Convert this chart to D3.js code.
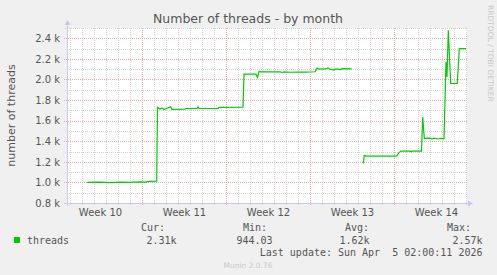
<!DOCTYPE html>
<html lang="en">
<head>
    <meta charset="UTF-8">
    <title>Number of threads - by month</title>
    <script src="https://cdn.jsdelivr.net/npm/d3@7"></script>
    <style>
        body { margin: 0; background: #f0f0f0; }
        svg { display: block; }
    </style>
</head>
<body>
    <script type="text/javascript">
        // chart values
        var times = ["03-04 10:36","03-05 12:00","03-06 08:00","03-07 04:00","03-08 00:00","03-08 20:00","03-09 06:00","03-09 16:00","03-10 05:24",
            "03-10 07:00","03-10 12:00","03-10 16:00","03-10 20:00","03-11 09:24","03-11 12:00","03-12 14:00","03-12 16:00","03-13 14:00","03-13 16:00","03-13 18:00","03-15 08:00","03-15 10:00","03-17 10:00",
            "03-17 12:00","03-18 12:00","03-18 15:00","03-18 18:00","03-18 22:00","03-20 12:00","03-20 16:00","03-20 20:00","03-21 08:00","03-21 22:00","03-22 14:00","03-23 10:00","03-23 14:00","03-23 18:00","03-24 08:00","03-24 12:00","03-24 16:00","03-25 00:00","03-25 04:00","03-25 12:00","03-25 16:00","03-26 11:24",
            "03-26 22:00",
            "03-27 10:36","03-27 12:36","03-27 16:00","03-30 05:24","03-30 08:00","03-30 10:00","03-30 14:00","03-31 08:00","03-31 10:00","03-31 12:00","04-01 07:00",
            "04-01 09:24","04-01 12:36","04-02 00:00","04-02 04:00","04-02 08:00","04-02 16:00","04-02 22:00","04-03 04:00",
            "04-03 08:00","04-03 10:00","04-03 12:36","04-03 17:24","04-04 06:36","04-04 10:36","04-05 00:00"];
        var threads = [1000,1002,998,1003,1000,1006,1003,1010,1012,
            1728,1712,1720,1708,1735,1710,1712,1718,1718,1735,1718,1720,1728,1730,
            2051,2051,2020,2078,2073,2075,2068,2073,2070,2072,2072,2075,2110,2100,2102,2112,2100,2092,2102,2095,2105,2102,
            null,
            1185,1262,1256,1256,1275,1288,1304,1304,1298,1304,1304,
            1637,1427,1430,1422,1430,1422,1428,1425,
            2170,2025,2478,1961,1961,2300,2300];

        var yTicks = [800,1000,1200,1400,1600,1800,2000,2200,2400];
        var weekLabels = ["Week 10","Week 11","Week 12","Week 13","Week 14"];
        var weekStarts = ["03-02 00:00","03-09 00:00","03-16 00:00","03-23 00:00","03-30 00:00"];

        var legendNames = ["Cur:","Min:","Avg:","Max:"];
        var legendValues = ["2.31k","944.03","1.62k","2.57k"];
        var lastUpdate = "Last update: Sun Apr  5 02:00:11 2026";

        var w = 497, h = 275;
        var pLeft = 67, pRight = 467, pTop = 28, pBottom = 203;

        var parseTime = d3.utcParse("%Y-%m-%d %H:%M");
        var t = function(s) { return parseTime("2026-" + s); };

        var dataset = times.map(function(d, i) {
            return {date: t(d), value: threads[i]};
        });

        var xScale = d3.scaleUtc()
            .domain([t("03-02 18:00"), t("04-05 02:00")])
            .range([pLeft, pRight]);

        var yScale = d3.scaleLinear()
            .domain([800, 2500])
            .range([pBottom, pTop]);

        var svg = d3.select("body")
            .append("svg")
            .attr("width", w)
            .attr("height", h)
            .style("font-family", "'DejaVu Sans', sans-serif");

        svg.append("rect")
            .attr("x", pLeft).attr("y", pTop)
            .attr("width", pRight - pLeft).attr("height", pBottom - pTop)
            .attr("fill", "#ffffff");

        // minor grid
        var days = d3.utcDay.range(xScale.domain()[0], xScale.domain()[1]);
        svg.append("g").selectAll("line")
            .data(days)
            .enter()
            .append("line")
            .attr("x1", function(d) { return Math.round(xScale(d)) + 0.5; })
            .attr("x2", function(d) { return Math.round(xScale(d)) + 0.5; })
            .attr("y1", pTop).attr("y2", pBottom + 2)
            .attr("stroke", "#d4d4d4")
            .attr("stroke-dasharray", "1,1");

        svg.append("g").selectAll("line")
            .data(d3.range(900, 2501, 200))
            .enter()
            .append("line")
            .attr("x1", pLeft - 2).attr("x2", pRight)
            .attr("y1", function(d) { return Math.round(yScale(d)) + 0.5; })
            .attr("y2", function(d) { return Math.round(yScale(d)) + 0.5; })
            .attr("stroke", "#d4d4d4")
            .attr("stroke-dasharray", "1,1");

        // major grid
        svg.append("g").selectAll("line")
            .data(weekStarts.map(t).filter(function(d) { return xScale(d) > pLeft; }))
            .enter()
            .append("line")
            .attr("x1", function(d) { return Math.round(xScale(d)) + 0.5; })
            .attr("x2", function(d) { return Math.round(xScale(d)) + 0.5; })
            .attr("y1", pTop).attr("y2", pBottom + 3)
            .attr("stroke", "#e6a8a8")
            .attr("stroke-dasharray", "1,1");

        svg.append("g").selectAll("line")
            .data(yTicks.slice(1))
            .enter()
            .append("line")
            .attr("x1", pLeft - 3).attr("x2", pRight)
            .attr("y1", function(d) { return Math.round(yScale(d)) + 0.5; })
            .attr("y2", function(d) { return Math.round(yScale(d)) + 0.5; })
            .attr("stroke", "#e6a8a8")
            .attr("stroke-dasharray", "1,1");

        // axes
        var yAxis = d3.axisLeft(yScale)
            .tickValues(yTicks)
            .tickSize(0)
            .tickPadding(7)
            .tickFormat(function(d) { return (d / 1000).toFixed(1) + " k"; });

        var gy = svg.append("g")
            .attr("transform", "translate(" + pLeft + ",0)")
            .call(yAxis);
        gy.select(".domain").remove();
        gy.selectAll("text")
            .attr("fill", "#555555")
            .style("font-size", "10px")
            .style("font-family", "'DejaVu Sans', sans-serif");

        var xAxis = d3.axisBottom(xScale)
            .tickValues(weekStarts.map(function(d) { return d3.utcHour.offset(t(d), 84); }))
            .tickSize(0)
            .tickPadding(6)
            .tickFormat(function(d, i) { return weekLabels[i]; });

        var gx = svg.append("g")
            .attr("transform", "translate(0," + pBottom + ")")
            .call(xAxis);
        gx.select(".domain").remove();
        gx.selectAll("text")
            .attr("fill", "#555555")
            .style("font-size", "10px")
            .style("font-family", "'DejaVu Sans', sans-serif");

        svg.append("line")
            .attr("x1", pLeft + 0.5).attr("x2", pLeft + 0.5)
            .attr("y1", pTop - 4).attr("y2", pBottom + 3)
            .attr("stroke", "#c8c8f0");
        svg.append("line")
            .attr("x1", pLeft - 3).attr("x2", pRight + 3)
            .attr("y1", pBottom + 0.5).attr("y2", pBottom + 0.5)
            .attr("stroke", "#c8c8f0");
        svg.append("path")
            .attr("d", "M" + (pLeft - 2.5) + "," + (pTop - 3) + "L" + (pLeft + 0.5) + "," + (pTop - 8) + "L" + (pLeft + 3.5) + "," + (pTop - 3) + "Z")
            .attr("fill", "#c8c8f0");
        svg.append("path")
            .attr("d", "M" + (pRight + 1) + "," + (pBottom - 2.5) + "L" + (pRight + 6) + "," + (pBottom + 0.5) + "L" + (pRight + 1) + "," + (pBottom + 3.5) + "Z")
            .attr("fill", "#c8c8f0");

        // data line
        var line = d3.line()
            .defined(function(d) { return d.value !== null; })
            .x(function(d) { return xScale(d.date); })
            .y(function(d) { return yScale(d.value); });

        svg.append("path")
            .datum(dataset)
            .attr("fill", "none")
            .attr("stroke", "#00cc00")
            .attr("stroke-width", 1.2)
            .attr("d", line);

        // titles
        svg.append("text")
            .attr("x", 248).attr("y", 23)
            .attr("text-anchor", "middle")
            .attr("fill", "#555555")
            .style("font-size", "12.5px")
            .text("Number of threads - by month");

        svg.append("text")
            .attr("transform", "translate(15," + ((pTop + pBottom) / 2) + ") rotate(-90)")
            .attr("text-anchor", "middle")
            .attr("fill", "#555555")
            .style("font-size", "11px")
            .text("number of threads");

        svg.append("text")
            .attr("transform", "translate(488,5) rotate(90)")
            .attr("fill", "#c8c8c8")
            .style("font-size", "7.5px")
            .text("RRDTOOL / TOBI OETIKER");

        // legend
        svg.append("rect")
            .attr("x", 14).attr("y", 237)
            .attr("width", 6).attr("height", 6)
            .attr("fill", "#00cc00");

        var mono = "'DejaVu Sans Mono', monospace";
        svg.append("text")
            .attr("x", 27).attr("y", 243.5)
            .attr("fill", "#555555")
            .style("font-family", mono).style("font-size", "10px")
            .text("threads");

        var nameX = [141, 243, 345, 447];
        var valueEnd = [176.5, 272.5, 369.5, 482.5];

        svg.append("g").selectAll("text")
            .data(legendNames)
            .enter()
            .append("text")
            .attr("x", function(d, i) { return nameX[i]; })
            .attr("y", 231)
            .attr("fill", "#555555")
            .style("font-family", mono).style("font-size", "10px")
            .text(function(d) { return d; });

        svg.append("g").selectAll("text")
            .data(legendValues)
            .enter()
            .append("text")
            .attr("x", function(d, i) { return valueEnd[i]; })
            .attr("y", 243.5)
            .attr("text-anchor", "end")
            .attr("fill", "#555555")
            .style("font-family", mono).style("font-size", "10px")
            .text(function(d) { return d; });

        svg.append("text")
            .attr("x", 482.5).attr("y", 255.5)
            .attr("text-anchor", "end")
            .attr("fill", "#555555")
            .attr("xml:space", "preserve")
            .style("white-space", "pre")
            .style("font-family", mono).style("font-size", "10px")
            .text(lastUpdate);

        svg.append("text")
            .attr("x", 248).attr("y", 268)
            .attr("text-anchor", "middle")
            .attr("fill", "#c8c8c8")
            .style("font-size", "7.5px")
            .text("Munin 2.0.76");
    </script>
</body>
</html>
